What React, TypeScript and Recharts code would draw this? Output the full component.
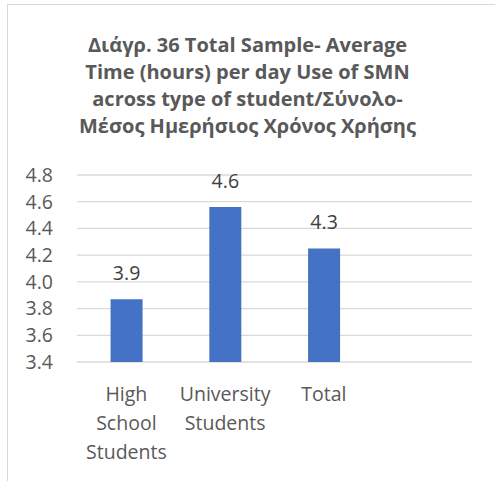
import { BarChart, Bar, XAxis, YAxis, CartesianGrid, LabelList } from "recharts";

const categories = ["High School Students", "University Students", "Total", ""];
const hours = [3.87, 4.56, 4.25, null];
const yTicks = [3.4, 3.6, 3.8, 4.0, 4.2, 4.4, 4.6, 4.8];
const titleLines = [
  "Διάγρ. 36 Total Sample- Average",
  "Time (hours) per day Use of SMN",
  "across type of student/Σύνολο-",
  "Μέσος Ημερήσιος Χρόνος Χρήσης",
];

const data = categories.map((name, i) => ({ name, value: hours[i] }));

const FONT = "'Open Sans', sans-serif";
const TEXT = "#595959";

function CategoryTick(props: any) {
  const { x, y, payload } = props;
  const lines = String(payload.value).split(" ").filter(Boolean);
  return (
    <text x={x} y={y} textAnchor="middle" fill={TEXT} fontSize={19.5} fontFamily={FONT}>
      {lines.map((line, i) => (
        <tspan key={i} x={x} dy={i === 0 ? 31 : 29}>
          {line}
        </tspan>
      ))}
    </text>
  );
}

export default function App() {
  return (
    <div style={{ position: "absolute", left: 0, top: 0, width: 495, height: 481, overflow: "hidden", background: "#fff" }}>
      <div
        style={{
          position: "absolute",
          left: 7,
          top: 4,
          width: 600,
          height: 600,
          borderLeft: "1.5px solid #d9d9d9",
          borderTop: "1.5px solid #d9d9d9",
        }}
      />
      <div
        style={{
          position: "absolute",
          left: 0,
          top: 31,
          width: 495,
          textAlign: "center",
          fontFamily: FONT,
          fontWeight: "bold",
          fontSize: 20,
          lineHeight: "27px",
          color: TEXT,
        }}
      >
        {titleLines.map((l) => (
          <div key={l}>{l}</div>
        ))}
      </div>
      <div style={{ position: "absolute", left: 0, top: 0 }}>
        <BarChart width={495} height={481} data={data} margin={{ top: 175, right: 23, bottom: 0, left: 0 }} barCategoryGap="34%">
          <CartesianGrid vertical={false} stroke="#d9d9d9" strokeWidth={1.3} />
          <XAxis dataKey="name" axisLine={false} tickLine={false} height={119} interval={0} tick={<CategoryTick />} />
          <YAxis
            domain={[3.4, 4.8]}
            ticks={yTicks}
            interval={0}
            width={77}
            axisLine={false}
            tickLine={false}
            tickSize={0}
            tickMargin={24}
            tickFormatter={(v: number) => v.toFixed(1)}
            tick={{ fill: TEXT, fontSize: 19.5, fontFamily: FONT }}
          />
          <Bar dataKey="value" fill="#4472c4" isAnimationActive={false}>
            <LabelList
              dataKey="value"
              position="top"
              offset={19}
              fill="#404040"
              fontSize={19.5}
              fontFamily={FONT}
              formatter={(v: any) => (v == null ? "" : Number(v).toFixed(1))}
            />
          </Bar>
        </BarChart>
      </div>
    </div>
  );
}
